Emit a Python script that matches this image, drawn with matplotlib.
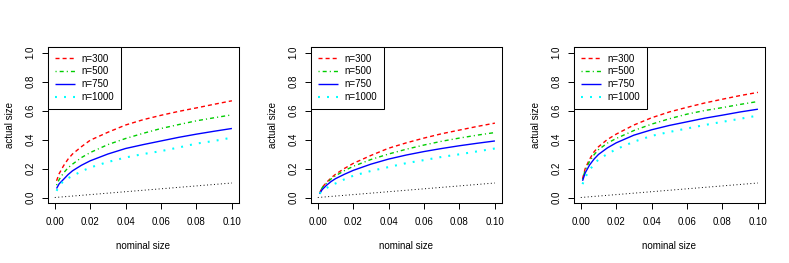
import numpy as np
import matplotlib
matplotlib.use("Agg")
import matplotlib.pyplot as plt

plt.rcParams['font.family'] = ['Liberation Sans', 'DejaVu Sans']
plt.rcParams['lines.scale_dashes'] = False

nominal = [0.001, 0.0025, 0.005, 0.0075, 0.01, 0.015, 0.02, 0.03,
           0.04, 0.05, 0.06, 0.07, 0.08, 0.09, 0.1]

labels = ["n=300", "n=500", "n=750", "n=1000"]

# panel 1
p1_n300 = [0.115, 0.165, 0.22, 0.265, 0.30, 0.35, 0.395, 0.45, 0.50, 0.537, 0.567, 0.594, 0.618, 0.643, 0.667]
p1_n500 = [0.085, 0.125, 0.17, 0.205, 0.23, 0.275, 0.31, 0.365, 0.407, 0.443, 0.476, 0.503, 0.529, 0.55, 0.570]
p1_n750 = [0.062, 0.095, 0.126, 0.158, 0.184, 0.222, 0.253, 0.30, 0.338, 0.365, 0.39, 0.415, 0.437, 0.457, 0.476]
p1_n1000 = [0.046, 0.08, 0.115, 0.133, 0.149, 0.18, 0.207, 0.245, 0.276, 0.30, 0.32, 0.345, 0.372, 0.39, 0.413]

# panel 2
p2_n300 = [0.03, 0.07, 0.105, 0.135, 0.16, 0.20, 0.235, 0.29, 0.34, 0.377, 0.41, 0.44, 0.465, 0.49, 0.513]
p2_n500 = [0.03, 0.068, 0.10, 0.128, 0.15, 0.185, 0.215, 0.262, 0.30, 0.333, 0.362, 0.388, 0.41, 0.43, 0.448]
p2_n750 = [0.025, 0.055, 0.085, 0.11, 0.13, 0.16, 0.187, 0.23, 0.265, 0.293, 0.317, 0.338, 0.357, 0.374, 0.39]
p2_n1000 = [0.028, 0.045, 0.066, 0.083, 0.097, 0.125, 0.15, 0.183, 0.21, 0.237, 0.258, 0.28, 0.298, 0.318, 0.338]

# panel 3
p3_n300 = [0.13, 0.2, 0.265, 0.315, 0.35, 0.40, 0.437, 0.50, 0.55, 0.59, 0.622, 0.652, 0.678, 0.703, 0.725]
p3_n500 = [0.125, 0.19, 0.25, 0.295, 0.33, 0.375, 0.407, 0.462, 0.506, 0.543, 0.575, 0.60, 0.62, 0.642, 0.662]
p3_n750 = [0.115, 0.17, 0.225, 0.265, 0.297, 0.342, 0.377, 0.43, 0.467, 0.497, 0.522, 0.547, 0.568, 0.59, 0.609]
p3_n1000 = [0.092, 0.14, 0.19, 0.23, 0.262, 0.30, 0.333, 0.385, 0.425, 0.452, 0.476, 0.50, 0.522, 0.543, 0.565]

panels = [
    [p1_n300, p1_n500, p1_n750, p1_n1000],
    [p2_n300, p2_n500, p2_n750, p2_n1000],
    [p3_n300, p3_n500, p3_n750, p3_n1000],
]

colors = ["#ff0000", "#00cd00", "#0000ff", "#00ffff"]
dashes = [(2.9, 2.2), (0.8, 2.2, 2.9, 2.2), None, (1.4, 5.1)]
widths = [1.0, 1.0, 1.0, 1.5]

W, H = 789, 263
fig = plt.figure(figsize=(W / 100, H / 100), dpi=100)

lefts = [47.7, 310.7, 573.7]
for left, series in zip(lefts, panels):
    ax = fig.add_axes([left / W, (H - 203.3) / H, 191.3 / W, 156.6 / H])
    for vals, c, d, lw, lab in zip(series, colors, dashes, widths, labels):
        line, = ax.plot(nominal, vals, color=c, lw=lw, label=lab,
                        solid_capstyle='butt', dash_capstyle='butt')
        if d is not None:
            line.set_dashes(d)
    ref, = ax.plot([0, 0.1], [0, 0.1], color='black', lw=0.7)
    ref.set_dashes((0.7, 1.8))

    ax.set_xlim(-0.004, 0.104)
    ax.set_ylim(-0.04, 1.04)
    ax.set_xticks([0.0, 0.02, 0.04, 0.06, 0.08, 0.10])
    ax.set_xticklabels(["0.00", "0.02", "0.04", "0.06", "0.08", "0.10"])
    ax.set_yticks([0.0, 0.2, 0.4, 0.6, 0.8, 1.0])
    ax.set_yticklabels(["0.0", "0.2", "0.4", "0.6", "0.8", "1.0"], rotation=90, va='center')
    ax.tick_params(length=4, width=0.7, labelsize=7)
    ax.tick_params(axis='x', pad=6)
    ax.tick_params(axis='y', pad=5)
    for s in ax.spines.values():
        s.set_linewidth(0.75)
    ax.set_xlabel("nominal size", fontsize=7, labelpad=10)
    ax.set_ylabel("actual size", fontsize=7, labelpad=7)

    leg = ax.legend(loc='upper left', borderaxespad=0, fancybox=False,
                    edgecolor='black', framealpha=1, fontsize=7,
                    handlelength=2.06, handletextpad=0.69, borderpad=0.7,
                    labelspacing=0.3)
    leg.get_frame().set_linewidth(0.75)

fig.savefig("out.png", dpi=100)
